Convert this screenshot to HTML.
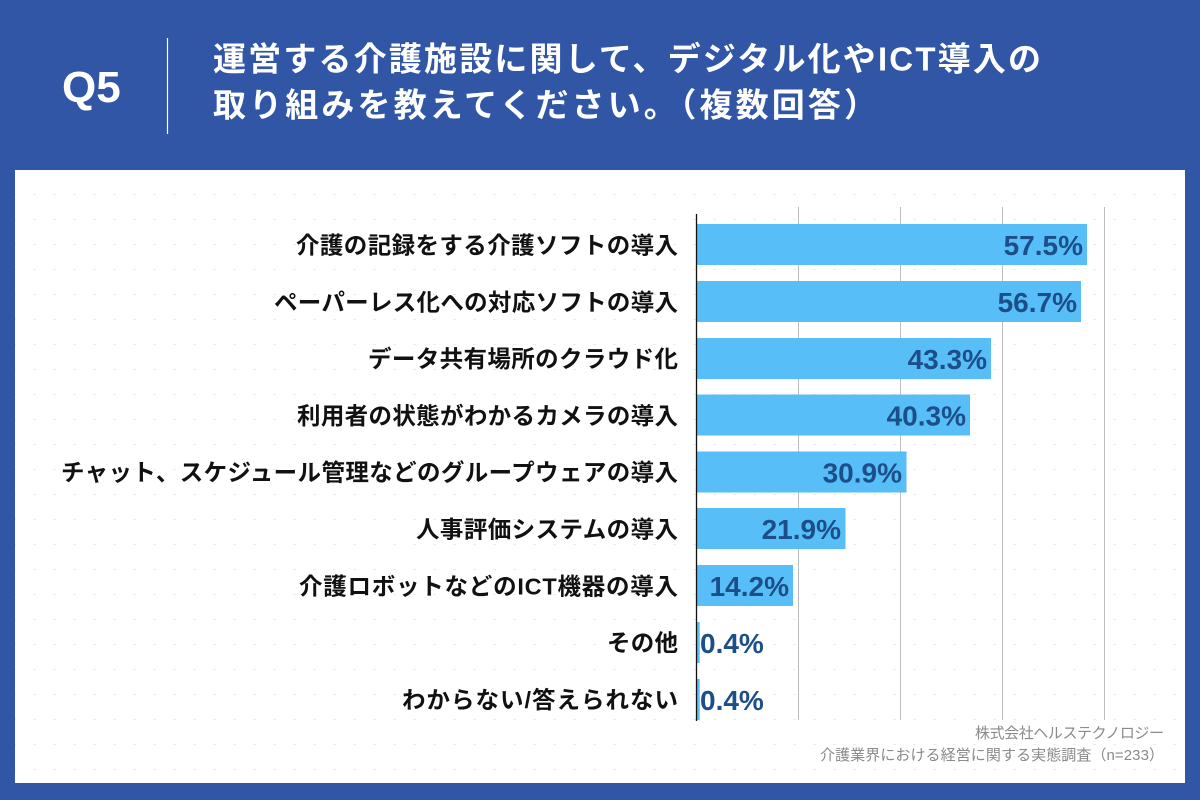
<!DOCTYPE html>
<html lang="ja">
<head>
<meta charset="utf-8">
<style>
  html,body{margin:0;padding:0;background:#3156a6;}
  body{width:1200px;height:800px;overflow:hidden;}
  svg{display:block;}
  .jp{font-family:"Liberation Sans","Noto Sans CJK JP",sans-serif;}
</style>
</head>
<body>
<svg width="1200" height="800" viewBox="0 0 1200 800" xmlns="http://www.w3.org/2000/svg">
  <defs>
    <pattern id="dots" x="13" y="194" width="20" height="25" patternUnits="userSpaceOnUse">
      <rect x="0" y="0" width="3" height="1" fill="#ececec"/>
    </pattern>
  </defs>
  <!-- background -->
  <rect x="0" y="0" width="1200" height="800" fill="#3156a6"/>
  <!-- header -->
  <text x="62" y="102" font-family="Liberation Sans, sans-serif" font-weight="700" font-size="44" fill="#ffffff">Q5</text>
  <line x1="167.5" y1="38" x2="167.5" y2="134" stroke="#ffffff" stroke-width="1.2"/>
  <text class="jp" x="213" y="70.5" font-weight="700" font-size="33" fill="#ffffff" textLength="828" lengthAdjust="spacing">運営する介護施設に関して、デジタル化やICT導入の</text>
  <text class="jp" x="213" y="116.5" font-weight="700" font-size="33" fill="#ffffff" textLength="664" lengthAdjust="spacing">取り組みを教えてください。（複数回答）</text>

  <!-- white panel -->
  <rect x="15" y="170" width="1170" height="613" fill="#ffffff"/>
  <rect x="15" y="170" width="1170" height="613" fill="url(#dots)"/>

  <!-- gridlines -->
  <g stroke="#bdbdbd" stroke-width="1">
    <line x1="798.5" y1="207" x2="798.5" y2="720"/>
    <line x1="900.5" y1="207" x2="900.5" y2="720"/>
    <line x1="1002.5" y1="207" x2="1002.5" y2="720"/>
    <line x1="1104.5" y1="207" x2="1104.5" y2="720"/>
  </g>

  <!-- bars -->
  <g fill="#58bef7">
    <rect x="697" y="224" width="390" height="41"/>
    <rect x="697" y="281" width="384" height="41"/>
    <rect x="697" y="338" width="294" height="41"/>
    <rect x="697" y="394.5" width="273" height="41"/>
    <rect x="697" y="451.5" width="209.5" height="41"/>
    <rect x="697" y="508" width="148.5" height="41"/>
    <rect x="697" y="565" width="96" height="41"/>
    <rect x="697" y="622" width="2.7" height="41"/>
    <rect x="697" y="679" width="2.7" height="41"/>
  </g>

  <!-- axis -->
  <line x1="696.5" y1="214" x2="696.5" y2="721" stroke="#111111" stroke-width="1.3"/>

  <!-- category labels -->
  <g class="jp" font-weight="700" font-size="23.5" fill="#111111" text-anchor="end">
    <text x="678" y="253.5" textLength="382" lengthAdjust="spacing">介護の記録をする介護ソフトの導入</text>
    <text x="678" y="310.5" textLength="404" lengthAdjust="spacing">ペーパーレス化への対応ソフトの導入</text>
    <text x="678" y="367" textLength="310" lengthAdjust="spacing">データ共有場所のクラウド化</text>
    <text x="678" y="424" textLength="381" lengthAdjust="spacing">利用者の状態がわかるカメラの導入</text>
    <text x="678" y="480.5" textLength="617" lengthAdjust="spacing">チャット、スケジュール管理などのグループウェアの導入</text>
    <text x="678" y="537.5" textLength="262" lengthAdjust="spacing">人事評価システムの導入</text>
    <text x="678" y="594.5" textLength="379" lengthAdjust="spacing">介護ロボットなどのICT機器の導入</text>
    <text x="678" y="651" textLength="71" lengthAdjust="spacing">その他</text>
    <text x="678" y="708" textLength="276" lengthAdjust="spacing">わからない/答えられない</text>
  </g>

  <!-- value labels -->
  <g font-family="Liberation Sans, sans-serif" font-weight="700" font-size="28" fill="#1c4f8a">
    <text x="1083" y="255" text-anchor="end">57.5%</text>
    <text x="1077" y="312" text-anchor="end">56.7%</text>
    <text x="987" y="369" text-anchor="end">43.3%</text>
    <text x="966" y="425.5" text-anchor="end">40.3%</text>
    <text x="902" y="482.5" text-anchor="end">30.9%</text>
    <text x="841" y="539" text-anchor="end">21.9%</text>
    <text x="789" y="596" text-anchor="end">14.2%</text>
    <text x="700" y="653">0.4%</text>
    <text x="700" y="710">0.4%</text>
  </g>

  <!-- source -->
  <g class="jp" font-size="15" fill="#8a8a8a" text-anchor="end">
    <text x="1164" y="738" textLength="189" lengthAdjust="spacing">株式会社ヘルステクノロジー</text>
    <text x="1164" y="760" textLength="344" lengthAdjust="spacing">介護業界における経営に関する実態調査（n=233）</text>
  </g>
</svg>
</body>
</html>
